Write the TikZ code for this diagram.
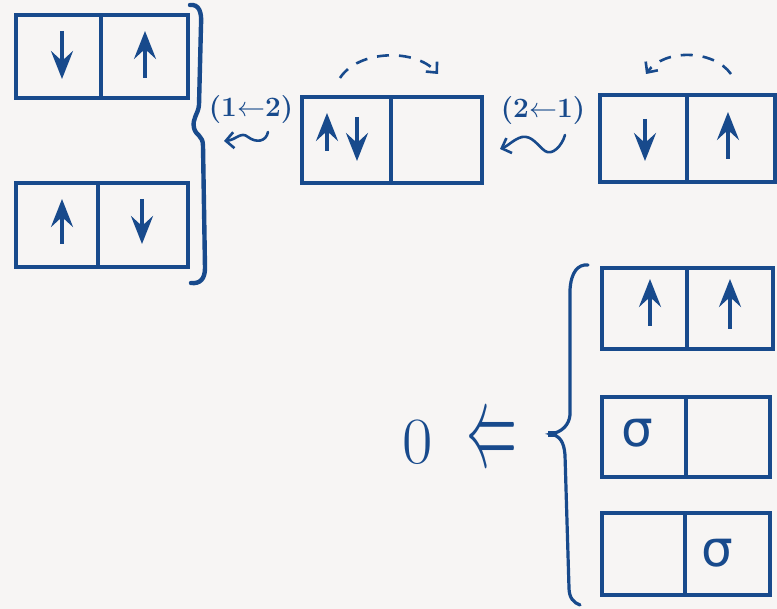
\documentclass[tikz,border=0pt]{standalone}
\usepackage{unicode-math}
\newfontfamily\greekfont{DejaVu Sans}
\usetikzlibrary{arrows.meta,calc}
\definecolor{ink}{RGB}{24,74,140}
\definecolor{paper}{RGB}{247,245,244}
\tikzset{
  cell/.style={draw=ink, line width=3.8pt, inner sep=0pt},
  spin/.style={draw=ink, line width=3.8pt, -{Stealth[length=28pt,width=22pt,inset=10pt]}},
  hop/.style={draw=ink, line width=2.6pt, dash pattern=on 12pt off 10pt, -{Straight Barb[length=8pt,width=15pt]}},
  squig/.style={draw=ink, line width=2.6pt, line cap=round, -{Straight Barb[length=8pt,width=16pt]}},
  brace/.style={draw=ink, line width=4pt, line cap=round},
  lbl/.style={text=ink, font=\fontsize{28}{28}\selectfont\bfseries, inner sep=0pt},
  sym/.style={text=ink, inner sep=0pt},
}
\begin{document}
\begin{tikzpicture}[x=1pt, y=-1pt]
  \fill[paper] (0,0) rectangle (777,609);
  \useasboundingbox (0,0) rectangle (777,609);

  % two-site boxes: left group
  \node[cell, minimum width=85pt, minimum height=83pt] (A1) at (58.5,56.5) {};
  \node[cell, minimum width=87pt, minimum height=83pt] (A2) at (144.5,56.5) {};
  \node[cell, minimum width=82pt, minimum height=84pt] (B1) at (57,225) {};
  \node[cell, minimum width=90pt, minimum height=84pt] (B2) at (143,225) {};
  % doubly occupied site
  \node[cell, minimum width=89pt, minimum height=86pt] (C1) at (346.5,140) {};
  \node[cell, minimum width=91pt, minimum height=86pt] (C2) at (436.5,140) {};
  % right configuration
  \node[cell, minimum width=87pt, minimum height=87pt] (D1) at (643.5,138.5) {};
  \node[cell, minimum width=88pt, minimum height=87pt] (D2) at (731,138.5) {};
  % lower-right group
  \node[cell, minimum width=85pt, minimum height=81pt] (E1) at (644.5,308.5) {};
  \node[cell, minimum width=86pt, minimum height=81pt] (E2) at (730,308.5) {};
  \node[cell, minimum width=84pt, minimum height=80pt] (F1) at (644,437) {};
  \node[cell, minimum width=84pt, minimum height=80pt] (F2) at (728,437) {};
  \node[cell, minimum width=83pt, minimum height=82pt] (G1) at (643.5,554) {};
  \node[cell, minimum width=85pt, minimum height=82pt] (G2) at (727.5,554) {};

  % spins
  \draw[spin] (62,31) -- (62,79);
  \draw[spin] (145,78) -- (145,31);
  \draw[spin] (62,244) -- (62,199);
  \draw[spin] (142,199) -- (142,244);
  \draw[spin] (327,151) -- (327,113);
  \draw[spin] (357,117) -- (357,161);
  \draw[spin] (645,119) -- (645,161);
  \draw[spin] (728,159) -- (728,112);
  \draw[spin] (650,326) -- (650,279);
  \draw[spin] (730,329) -- (730,279);

  % sigma labels
  \node[sym, font=\fontsize{50}{50}\selectfont\greekfont] (sF) at (637,433) {σ};
  \node[sym, font=\fontsize{50}{50}\selectfont\greekfont] (sG) at (717,553) {σ};

  % hopping arcs
  \coordinate (h1a) at (340,78);
  \coordinate (h1b) at (438,74);
  \draw[hop] (h1a) .. controls (358,50) and (415,48) .. (h1b);
  \coordinate (h2a) at (731,74);
  \coordinate (h2b) at (646,74);
  \draw[hop] (h2a) .. controls (713,49) and (664,49) .. (h2b);

  % process labels with wavy arrows
  \node[lbl] (L1) at (251,110) {(1$\leftarrow$2)};
  \node[lbl] (L2) at (543,111) {(2$\leftarrow$1)};
  \coordinate (w1) at (268,132);
  \coordinate (w1e) at (224,141);
  \draw[squig] (w1) .. controls (266,142) and (256,143) .. (248,137)
     .. controls (241,131) and (236,140) .. (w1e);
  \coordinate (w2) at (565,135);
  \coordinate (w2e) at (500,149);
  \draw[squig] (w2) .. controls (562,146) and (552,156) .. (545,151)
     .. controls (538,146) and (532,135) .. (522,137)
     .. controls (514,139) and (508,146) .. (w2e);

  % braces
  \draw[brace, line width=4.4pt] (190,5) .. controls (199,4) and (202,12) .. (201,25)
     -- (199,105) .. controls (198,115) and (192,118) .. (194,128)
     .. controls (196,136) and (203,135) .. (203,146)
     -- (205,268) .. controls (205,279) and (200,284) .. (191,283);
  \draw[brace, line width=3.2pt] (588,265) .. controls (578,264) and (571,272) .. (570,290)
     -- (570,415) .. controls (569,425) and (562,432) .. (551,434)
     .. controls (560,436) and (564,442) .. (565,455)
     -- (569,588) .. controls (569,598) and (574,603) .. (580,605);
  \draw[brace, line width=6pt, line cap=butt] (548,434) -- (556,434);

  % result
  \node[sym, font=\fontsize{66}{66}\selectfont] (zero) at (418,442) {0};
  \node[sym, font=\fontsize{60}{60}\selectfont] (impl) at (492,437)
     {\scalebox{0.85}[2.0]{$\Leftarrow$}};
\end{tikzpicture}
\end{document}
